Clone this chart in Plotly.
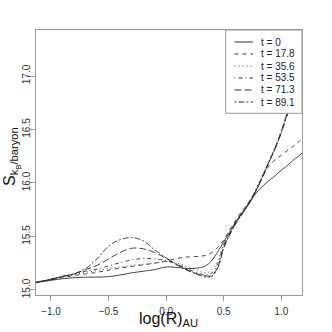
import plotly.graph_objects as go

# ---- data ----
x_log_r = [-1.13, -1.0, -0.9, -0.8, -0.7, -0.6, -0.5, -0.4, -0.3, -0.2, -0.1, 0.0,
           0.1, 0.2, 0.3, 0.35, 0.4, 0.45, 0.5,
           0.55, 0.6, 0.65, 0.7, 0.75, 0.8, 0.85, 0.9, 0.95, 1.0, 1.05, 1.1, 1.15, 1.18]

s_t0 = [15.07, 15.09, 15.105, 15.115, 15.12, 15.12, 15.125, 15.14, 15.16, 15.175, 15.19, 15.215,
        15.21, 15.20, 15.21, 15.23, 15.28, 15.36, 15.45,
        15.54, 15.63, 15.71, 15.78, 15.86, 15.93, 15.98, 16.03, 16.07, 16.12, 16.16, 16.21, 16.25, 16.28]
s_t17 = [15.07, 15.095, 15.115, 15.135, 15.15, 15.165, 15.185, 15.205, 15.22, 15.235, 15.25, 15.27,
         15.295, 15.31, 15.315, 15.325, 15.35, 15.40, 15.47,
         15.56, 15.645, 15.725, 15.795, 15.875, 15.97, 16.08, 16.17, 16.22, 16.26, 16.30, 16.34, 16.385, 16.41]
s_t35 = [15.07, 15.10, 15.125, 15.145, 15.165, 15.18, 15.20, 15.215, 15.23, 15.24, 15.25, 15.265,
         15.25, 15.21, 15.17, 15.16, 15.19, 15.28, 15.43,
         15.53, 15.63, 15.71, 15.79, 15.88, 15.99, 16.10, 16.22, 16.35, 16.49, 16.64, 16.80, 16.95, 17.05]
s_t53 = [15.07, 15.10, 15.13, 15.15, 15.175, 15.195, 15.225, 15.255, 15.28, 15.295, 15.29, 15.275,
         15.24, 15.19, 15.15, 15.14, 15.16, 15.25, 15.42,
         15.52, 15.62, 15.70, 15.78, 15.87, 15.97, 16.09, 16.21, 16.33, 16.47, 16.63, 16.79, 16.94, 17.04]
s_t71 = [15.07, 15.10, 15.125, 15.15, 15.19, 15.23, 15.29, 15.35, 15.39, 15.385, 15.35, 15.295,
         15.235, 15.18, 15.14, 15.13, 15.14, 15.22, 15.40,
         15.515, 15.615, 15.70, 15.775, 15.865, 15.975, 16.095, 16.215, 16.34, 16.48, 16.65, 16.81, 16.96, 17.06]
s_t89 = [15.07, 15.10, 15.125, 15.15, 15.20, 15.29, 15.41, 15.47, 15.49, 15.46, 15.375, 15.30,
         15.23, 15.175, 15.135, 15.12, 15.13, 15.21, 15.39,
         15.51, 15.61, 15.695, 15.77, 15.86, 15.97, 16.09, 16.21, 16.33, 16.47, 16.64, 16.80, 16.95, 17.05]

series_labels = ["t = 0", "t = 17.8", "t = 35.6", "t = 53.5", "t = 71.3", "t = 89.1"]
series_values = [s_t0, s_t17, s_t35, s_t53, s_t71, s_t89]
x_tick_vals = [-1.0, -0.5, 0.0, 0.5, 1.0]
y_tick_vals = [15.0, 15.5, 16.0, 16.5, 17.0]
x_title = "log(R)<sub>AU</sub>"
y_title = "S<sub>k<sub>B</sub>/baryon</sub>"

# ---- styles ----
dashes = ["solid", "4px,4px", "1px,3px", "1px,3px,4px,3px", "7px,3px", "2px,2px,6px,2px"]
line_col = "#1a1a1a"
axis_col = "#9a9a9a"
font_fam = "Liberation Sans, Arial, sans-serif"

W, H = 332, 332
ML, MT, PW, PH = 36, 30, 266, 265
MR, MB = W - ML - PW, H - MT - PH

fig = go.Figure()
for lab, vals, d in zip(series_labels, series_values, dashes):
    fig.add_trace(go.Scatter(x=x_log_r, y=vals, mode="lines", name=lab,
                             line=dict(color=line_col, width=0.8, dash=d,
                                       shape="spline", smoothing=1.0),
                             showlegend=False, hoverinfo="skip"))

def py_to_paper(py):
    return (MT + PH - py) / PH

def px_to_paper(px):
    return (px - ML) / PW

# ---- custom legend (compact, like the original) ----
fig.add_shape(type="rect", xref="paper", yref="paper", x0=px_to_paper(225.7), x1=1.0,
              y0=py_to_paper(113.3), y1=1.0,
              line=dict(color=axis_col, width=1), fillcolor="white", layer="above")
row_px = [42, 54, 66, 78, 90, 102]
for lab, d, py in zip(series_labels, dashes, row_px):
    yy = py_to_paper(py)
    fig.add_shape(type="line", xref="paper", yref="paper", x0=px_to_paper(234.5),
                  x1=px_to_paper(253), y0=yy, y1=yy,
                  line=dict(color=line_col, width=0.9, dash=d), layer="above")
    fig.add_annotation(xref="paper", yref="paper", x=px_to_paper(259), y=yy, text=lab,
                       showarrow=False, xanchor="left", yanchor="middle",
                       font=dict(family=font_fam, size=10, color="#222"))

# axis titles as annotations for exact placement
fig.add_annotation(xref="paper", yref="paper", x=px_to_paper(168), y=py_to_paper(319),
                   text=x_title, showarrow=False, xanchor="center", yanchor="middle",
                   font=dict(family=font_fam, size=16, color="#111"))
fig.add_annotation(xref="paper", yref="paper", x=px_to_paper(12), y=py_to_paper(157),
                   text=y_title, showarrow=False, xanchor="center", yanchor="middle",
                   textangle=-90, font=dict(family=font_fam, size=16, color="#111"))

fig.update_layout(
    width=W, height=H, autosize=False,
    margin=dict(l=ML, r=MR, t=MT, b=MB),
    paper_bgcolor="white", plot_bgcolor="white",
    font=dict(family=font_fam, color="#222"),
    hovermode=False,
    xaxis=dict(range=[-1.13, 1.18], tickvals=x_tick_vals, tickformat=".1f",
               automargin=False, ticklabelstandoff=2,
               showgrid=False, zeroline=False, showline=True, mirror=True,
               linecolor=axis_col, linewidth=1, ticks="outside", ticklen=5,
               tickcolor=axis_col, tickfont=dict(size=10, color="#333")),
    yaxis=dict(range=[14.953, 17.43], tickvals=y_tick_vals, tickformat=".1f",
               automargin=False, ticklabelstandoff=-4,
               showgrid=False, zeroline=False, showline=True, mirror=True,
               linecolor=axis_col, linewidth=1, ticks="outside", ticklen=5,
               tickcolor=axis_col, tickangle=-90, tickfont=dict(size=10, color="#333")),
)

fig.write_html("out.html", config={"displayModeBar": False, "staticPlot": True},
               post_script="document.body.style.margin='0';")
